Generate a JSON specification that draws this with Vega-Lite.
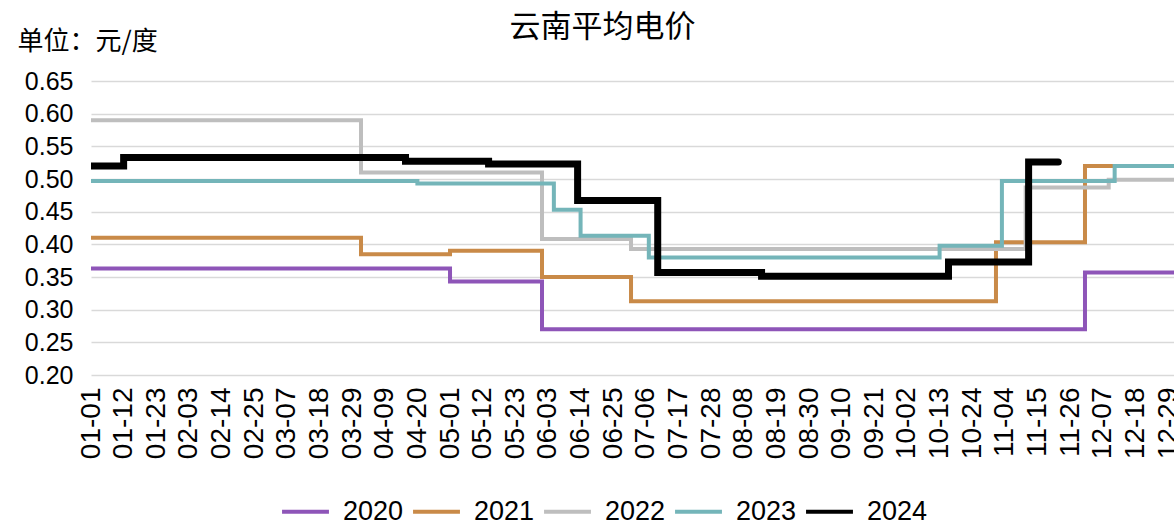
{
  "$schema": "https://vega.github.io/schema/vega-lite/v6.json",
  "width": 1083,
  "height": 294,
  "autosize": {"type": "none"},
  "padding": {"left": 91, "top": 81, "right": 0, "bottom": 150},
  "background": "white",
  "title": {"text": "云南平均电价", "font": "Noto Sans CJK SC", "fontSize": 31, "fontWeight": "normal", "color": "#000000", "anchor": "middle", "frame": "group", "dx": -30, "offset": 0, "dy": 16},
  "data": {"values": [
    {"series": "2020", "date": "2024/01/01", "value": 0.363},
    {"series": "2020", "date": "2024/05/01", "value": 0.343},
    {"series": "2020", "date": "2024/06/01", "value": 0.270},
    {"series": "2020", "date": "2024/12/01", "value": 0.357},
    {"series": "2020", "date": "2024/12/31", "value": 0.357},
    {"series": "2021", "date": "2024/01/01", "value": 0.410},
    {"series": "2021", "date": "2024/04/01", "value": 0.385},
    {"series": "2021", "date": "2024/05/01", "value": 0.390},
    {"series": "2021", "date": "2024/06/01", "value": 0.350},
    {"series": "2021", "date": "2024/07/01", "value": 0.313},
    {"series": "2021", "date": "2024/11/01", "value": 0.403},
    {"series": "2021", "date": "2024/12/01", "value": 0.520},
    {"series": "2021", "date": "2024/12/31", "value": 0.520},
    {"series": "2022", "date": "2024/01/01", "value": 0.590},
    {"series": "2022", "date": "2024/04/01", "value": 0.510},
    {"series": "2022", "date": "2024/06/01", "value": 0.408},
    {"series": "2022", "date": "2024/07/01", "value": 0.393},
    {"series": "2022", "date": "2024/11/11", "value": 0.487},
    {"series": "2022", "date": "2024/12/09", "value": 0.499},
    {"series": "2022", "date": "2024/12/31", "value": 0.499},
    {"series": "2023", "date": "2024/01/01", "value": 0.497},
    {"series": "2023", "date": "2024/04/20", "value": 0.493},
    {"series": "2023", "date": "2024/06/05", "value": 0.453},
    {"series": "2023", "date": "2024/06/14", "value": 0.413},
    {"series": "2023", "date": "2024/07/07", "value": 0.380},
    {"series": "2023", "date": "2024/10/13", "value": 0.398},
    {"series": "2023", "date": "2024/11/03", "value": 0.497},
    {"series": "2023", "date": "2024/12/11", "value": 0.520},
    {"series": "2023", "date": "2024/12/31", "value": 0.520},
    {"series": "2024", "date": "2024/01/01", "value": 0.520},
    {"series": "2024", "date": "2024/01/12", "value": 0.533},
    {"series": "2024", "date": "2024/04/16", "value": 0.527},
    {"series": "2024", "date": "2024/05/14", "value": 0.523},
    {"series": "2024", "date": "2024/06/13", "value": 0.467},
    {"series": "2024", "date": "2024/07/10", "value": 0.357},
    {"series": "2024", "date": "2024/08/14", "value": 0.351},
    {"series": "2024", "date": "2024/10/16", "value": 0.373},
    {"series": "2024", "date": "2024/11/12", "value": 0.526},
    {"series": "2024", "date": "2024/11/22", "value": 0.526}
  ]},
  "encoding": {
    "x": {
      "field": "date", "type": "temporal",
      "scale": {"domain": [{"year": 2024, "month": 1, "date": 1}, {"year": 2024, "month": 12, "date": 31}], "nice": false},
      "axis": {
        "values": [
          {"year": 2024, "month": 1, "date": 1}, {"year": 2024, "month": 1, "date": 12}, {"year": 2024, "month": 1, "date": 23},
          {"year": 2024, "month": 2, "date": 3}, {"year": 2024, "month": 2, "date": 14}, {"year": 2024, "month": 2, "date": 25},
          {"year": 2024, "month": 3, "date": 7}, {"year": 2024, "month": 3, "date": 18}, {"year": 2024, "month": 3, "date": 29},
          {"year": 2024, "month": 4, "date": 9}, {"year": 2024, "month": 4, "date": 20}, {"year": 2024, "month": 5, "date": 1},
          {"year": 2024, "month": 5, "date": 12}, {"year": 2024, "month": 5, "date": 23}, {"year": 2024, "month": 6, "date": 3},
          {"year": 2024, "month": 6, "date": 14}, {"year": 2024, "month": 6, "date": 25}, {"year": 2024, "month": 7, "date": 6},
          {"year": 2024, "month": 7, "date": 17}, {"year": 2024, "month": 7, "date": 28}, {"year": 2024, "month": 8, "date": 8},
          {"year": 2024, "month": 8, "date": 19}, {"year": 2024, "month": 8, "date": 30}, {"year": 2024, "month": 9, "date": 10},
          {"year": 2024, "month": 9, "date": 21}, {"year": 2024, "month": 10, "date": 2}, {"year": 2024, "month": 10, "date": 13},
          {"year": 2024, "month": 10, "date": 24}, {"year": 2024, "month": 11, "date": 4}, {"year": 2024, "month": 11, "date": 15},
          {"year": 2024, "month": 11, "date": 26}, {"year": 2024, "month": 12, "date": 7}, {"year": 2024, "month": 12, "date": 18},
          {"year": 2024, "month": 12, "date": 29}
        ],
        "format": "%m-%d",
        "labelAngle": 270,
        "labelFont": "Liberation Sans",
        "labelFontSize": 28,
        "labelColor": "#000000",
        "labelPadding": 12,
        "labelOverlap": false,
        "labelFlush": false,
        "ticks": false,
        "domain": false,
        "grid": false,
        "title": null
      }
    },
    "y": {
      "field": "value", "type": "quantitative",
      "scale": {"domain": [0.2, 0.65], "nice": false, "zero": false},
      "axis": {
        "values": [0.2, 0.25, 0.3, 0.35, 0.4, 0.45, 0.5, 0.55, 0.6, 0.65],
        "format": ".2f",
        "labelFont": "Liberation Sans",
        "labelFontSize": 25,
        "labelColor": "#000000",
        "labelPadding": 18,
        "ticks": false,
        "domain": false,
        "grid": true,
        "gridColor": "#D9D9D9",
        "gridWidth": 1.5,
        "title": "单位：元/度",
        "titleAngle": 0,
        "titleFont": "Noto Sans CJK SC",
        "titleFontSize": 26,
        "titleFontWeight": "normal",
        "titleColor": "#000000",
        "titleAlign": "left",
        "titleBaseline": "bottom",
        "titleX": -74,
        "titleY": -27
      }
    },
    "color": {
      "field": "series", "type": "nominal",
      "scale": {"domain": ["2020", "2021", "2022", "2023", "2024"], "range": ["#8E55B8", "#C98A48", "#BEBEBE", "#74B5B9", "#000000"]},
      "legend": {"title": null}
    }
  },
  "layer": [
    {
      "transform": [{"filter": "datum.series != '2024'"}],
      "mark": {"type": "line", "interpolate": "step-after", "strokeWidth": 4, "strokeCap": "butt", "strokeJoin": "miter", "clip": true}
    },
    {
      "transform": [{"filter": "datum.series == '2024'"}],
      "mark": {"type": "line", "interpolate": "step-after", "strokeWidth": 7, "strokeCap": "round", "strokeJoin": "miter", "clip": true}
    }
  ],
  "config": {
    "view": {"stroke": null},
    "legend": {
      "orient": "none",
      "legendX": 189,
      "legendY": 405,
      "direction": "horizontal",
      "symbolType": "stroke",
      "symbolSize": 2200,
      "symbolStrokeWidth": 4,
      "labelFont": "Liberation Sans",
      "labelFontSize": 27,
      "labelColor": "#000000",
      "labelOffset": 12,
      "columnPadding": 1
    }
  }
}
